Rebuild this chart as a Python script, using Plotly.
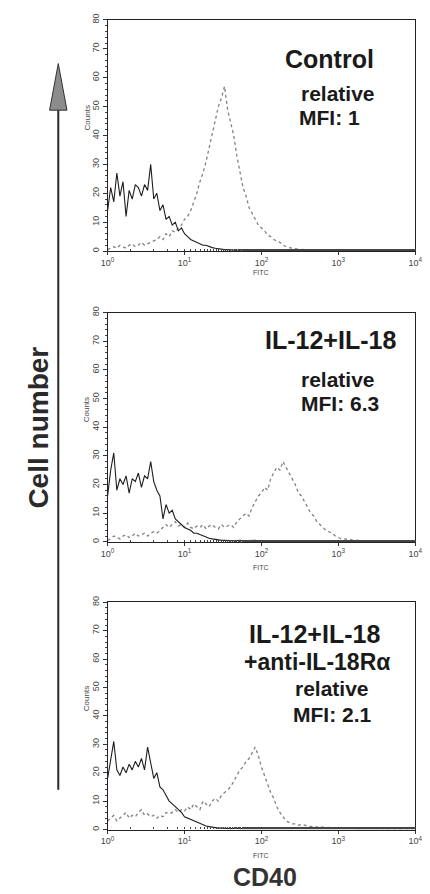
import plotly.graph_objects as go

# ---------------- data ----------------
# channel positions (log10 FITC)
CHANNEL_LOG = [0.00, 0.04, 0.08, 0.12, 0.16, 0.20, 0.24, 0.28, 0.32, 0.36,
               0.40, 0.44, 0.48, 0.52, 0.56, 0.60, 0.64, 0.68, 0.72, 0.76,
               0.80, 0.84, 0.88, 0.92, 0.96, 1.00, 1.04, 1.08, 1.12, 1.16,
               1.20, 1.24, 1.28, 1.32, 1.36, 1.40, 1.44, 1.48, 1.52, 1.56,
               1.60, 1.64, 1.68, 1.72, 1.76, 1.80, 1.84, 1.88, 1.92, 1.96,
               2.00, 2.04, 2.08, 2.12, 2.16, 2.20, 2.24, 2.28, 2.32, 2.36,
               2.40, 2.44, 2.48, 2.52, 2.56, 2.60, 2.64, 2.68, 2.72, 2.76,
               2.80, 2.84, 2.88, 2.92, 2.96, 3.00, 3.04, 3.08, 3.12, 3.16,
               3.20, 3.24, 3.28, 3.32, 3.36, 3.40, 3.44, 3.48, 3.52, 3.56,
               3.60, 3.64, 3.68, 3.72, 3.76, 3.80, 3.84, 3.88, 3.92, 3.96,
               4.00]

PANEL_LABELS = [["Control", "relative", "MFI: 1"],
                ["IL-12+IL-18", "relative", "MFI: 6.3"],
                ["IL-12+IL-18", "+anti-IL-18Rα", "relative", "MFI: 2.1"]]

# isotype control (black) counts
ISO_1 = [14, 22, 17, 27, 19, 24, 12, 21, 18, 23,
         22, 19, 23, 21, 30, 18, 20, 14, 16, 11,
         12, 9, 10, 7, 8, 6, 5, 4, 3.5, 3,
         2.5, 2, 2, 1.5, 1.2, 1, 0.8, 0.6, 0.5, 0.5,
         0.4, 0.5, 0.3, 0.4, 0.5, 0.3, 0.4, 0.3, 0.5, 0.4,
         0.3, 0.4, 0.3, 0.5, 0.3, 0.4, 0.3, 0.3, 0.4, 0.3,
         0.3, 0.4, 0.3, 0.3, 0.4, 0.3, 0.3, 0.3, 0.4, 0.3,
         0.3, 0.3, 0.4, 0.3, 0.3, 0.3, 0.3, 0.4, 0.3, 0.3,
         0.3, 0.3, 0.3, 0.4, 0.3, 0.3, 0.3, 0.3, 0.3, 0.3,
         0.3, 0.3, 0.4, 0.3, 0.3, 0.3, 0.3, 0.3, 0.3, 0.3,
         0.3]
ISO_2 = [16, 25, 31, 18, 22, 20, 23, 17, 22, 21,
         24, 19, 23, 22, 28, 21, 18, 16, 8, 13,
         10, 11, 8, 7, 6, 5, 4.5, 4, 3, 3,
         2.5, 2, 1.5, 1.2, 1, 0.8, 0.6, 0.5, 0.5, 0.4,
         0.5, 0.3, 0.4, 0.5, 0.3, 0.4, 0.3, 0.4, 0.5, 0.3,
         0.4, 0.3, 0.3, 0.4, 0.3, 0.3, 0.4, 0.3, 0.3, 0.3,
         0.4, 0.3, 0.3, 0.3, 0.4, 0.3, 0.3, 0.3, 0.3, 0.4,
         0.3, 0.3, 0.3, 0.3, 0.3, 0.4, 0.3, 0.3, 0.3, 0.3,
         0.3, 0.3, 0.3, 0.3, 0.4, 0.3, 0.3, 0.3, 0.3, 0.3,
         0.3, 0.3, 0.3, 0.3, 0.3, 0.4, 0.3, 0.3, 0.3, 0.3,
         0.3]
ISO_3 = [18, 24, 31, 21, 19, 22, 20, 23, 21, 24,
         22, 25, 21, 29, 23, 18, 20, 15, 14, 12,
         10, 9, 8, 7, 6, 4.5, 4, 3.5, 3, 2.5,
         2, 1.5, 1.2, 1, 0.8, 0.6, 0.5, 0.5, 0.4, 0.5,
         0.3, 0.4, 0.5, 0.3, 0.4, 0.3, 0.4, 0.3, 0.3, 0.4,
         0.3, 0.3, 0.4, 0.3, 0.3, 0.3, 0.4, 0.3, 0.3, 0.3,
         0.3, 0.4, 0.3, 0.3, 0.3, 0.3, 0.4, 0.3, 0.3, 0.3,
         0.3, 0.3, 0.3, 0.4, 0.3, 0.3, 0.3, 0.3, 0.3, 0.4,
         0.3, 0.3, 0.3, 0.3, 0.3, 0.3, 0.4, 0.3, 0.3, 0.3,
         0.3, 0.3, 0.3, 0.3, 0.3, 0.3, 0.3, 0.4, 0.3, 0.3,
         0.3]

# CD40 staining (gray) counts
CD40_1 = [0.5, 1, 1.5, 1, 2, 1.5, 1, 2, 2.5, 1.5,
          2, 3, 2, 2.5, 3, 3.5, 4, 5, 4, 6,
          5, 7, 6.5, 8, 9, 11, 12, 14, 17, 20,
          24, 27, 31, 36, 40, 46, 50, 53, 57, 49,
          44, 40, 33, 28, 22, 19, 15, 13, 11, 9,
          8, 7, 5.5, 5, 4, 3.5, 3, 2, 1.5, 1.2,
          1, 0.8, 0.6, 0.5, 0.6, 0.4, 0.5, 0.4, 0.5, 0.4,
          0.3, 0.5, 0.4, 0.3, 0.4, 0.3, 0.4, 0.3, 0.4, 0.3,
          0.3, 0.4, 0.3, 0.3, 0.4, 0.3, 0.3, 0.3, 0.4, 0.3,
          0.3, 0.3, 0.3, 0.4, 0.3, 0.3, 0.3, 0.3, 0.3, 0.3,
          0.3]
CD40_2 = [0.5, 1, 2, 1.5, 1, 2, 2.5, 1.5, 2, 3,
          2, 2.5, 3, 2, 3, 3.5, 3, 4, 5, 6,
          5, 6, 7, 5.5, 6, 5, 6.5, 5, 4.5, 5.5,
          5, 6, 4.5, 5.5, 6, 5, 4.5, 6, 5, 5.5,
          6, 5, 7, 8, 9, 10, 9, 12, 14, 16,
          17, 19, 18, 22, 24, 26, 25, 28, 26, 24,
          22, 20, 17, 16, 14, 12, 10, 9, 7, 6,
          5, 4, 3.5, 3, 2, 1.5, 1, 1, 0.8, 0.6,
          0.5, 0.5, 0.4, 0.5, 0.4, 0.3, 0.4, 0.3, 0.4, 0.3,
          0.3, 0.4, 0.3, 0.3, 0.3, 0.4, 0.3, 0.3, 0.3, 0.3,
          0.3]
CD40_3 = [3, 4, 5, 3, 4, 5, 6, 4, 5, 4.5,
          6, 7, 5, 5.5, 4.5, 5, 4, 5, 4.5, 6,
          5.5, 6, 7, 6, 7, 6.5, 8, 7, 9, 8,
          7, 10, 9, 8, 10, 11, 10, 12, 13, 14,
          15, 17, 19, 21, 22, 24, 25, 27, 29, 26,
          22, 19, 16, 13, 11, 8, 6, 4.5, 3, 2.5,
          2, 2, 1.5, 1.8, 1.5, 1.2, 1, 1.2, 0.8, 1,
          0.8, 0.6, 0.7, 0.5, 0.6, 0.5, 0.4, 0.5, 0.4, 0.4,
          0.3, 0.4, 0.3, 0.4, 0.3, 0.3, 0.4, 0.3, 0.3, 0.3,
          0.3, 0.3, 0.4, 0.3, 0.3, 0.3, 0.3, 0.3, 0.3, 0.3,
          0.3]

ISO = [ISO_1, ISO_2, ISO_3]
CD40 = [CD40_1, CD40_2, CD40_3]

Y_TICKS = [0, 10, 20, 30, 40, 50, 60, 70, 80]
X_TICKVALS = [1, 10, 100, 1000, 10000]
X_TICKTEXT = ["10<sup>0</sup>", "10<sup>1</sup>", "10<sup>2</sup>",
              "10<sup>3</sup>", "10<sup>4</sup>"]

# ---------------- layout helpers ----------------
W, H = 430, 894
def px(x):
    return x / W
def py(y):
    return 1 - y / H

FONT = "Liberation Sans, Arial, sans-serif"
XDOM = [px(104), px(422)]
PANELS = [(14, 247), (309, 540), (601, 830)]   # top, bottom pixel rows

fitc = [10 ** v for v in CHANNEL_LOG]

fig = go.Figure()
for k in range(3):
    sfx = "" if k == 0 else str(k + 1)
    fig.add_trace(go.Scatter(x=fitc, y=CD40[k], mode="lines",
                             line=dict(color="#808080", width=1.3, dash="dot"),
                             xaxis="x" + sfx, yaxis="y" + sfx, showlegend=False))
    fig.add_trace(go.Scatter(x=fitc, y=ISO[k], mode="lines",
                             line=dict(color="#1e1e1e", width=1.1),
                             xaxis="x" + sfx, yaxis="y" + sfx, showlegend=False))

axis_common = dict(showline=True, linecolor="#222", linewidth=1.2, mirror=True,
                   showgrid=False, zeroline=False,
                   tickfont=dict(family=FONT, size=9, color="#444"))
for k, (top, bot) in enumerate(PANELS):
    sfx = "" if k == 0 else str(k + 1)
    fig.layout["xaxis" + sfx] = dict(
        axis_common, type="log", range=[0, 4], domain=XDOM,
        anchor="y" + sfx, tickvals=X_TICKVALS, ticktext=X_TICKTEXT,
        ticks="outside", ticklen=3, tickcolor="#333",
        minor=dict(ticks="inside", ticklen=2, tickcolor="#444"))
    fig.layout["yaxis" + sfx] = dict(
        axis_common, range=[0, 80], domain=[py(bot), py(top)],
        anchor="x" + sfx, tickvals=Y_TICKS, tickangle=-90,
        ticks="outside", ticklen=4, tickcolor="#333",
        minor=dict(ticks="outside", ticklen=2, dtick=2, tickcolor="#444"))

ann = []
def text(x, y, s, size, bold=True, color="#1a1a1a", angle=0, xanchor="center"):
    ann.append(dict(x=px(x), y=py(y), xref="paper", yref="paper",
                    text=("<b>%s</b>" % s) if bold else s, showarrow=False,
                    textangle=angle, xanchor=xanchor, yanchor="middle",
                    font=dict(family=FONT, size=size, color=color)))

# panel labels
text(333, 53, PANEL_LABELS[0][0], 25)
text(302, 88, PANEL_LABELS[0][1], 21, xanchor="left")
text(300, 112, PANEL_LABELS[0][2], 21, xanchor="left")

text(334, 337, PANEL_LABELS[1][0], 25)
text(342, 376, PANEL_LABELS[1][1], 21)
text(344, 401, PANEL_LABELS[1][2], 21)

text(318, 633, PANEL_LABELS[2][0], 25)
text(320, 661, PANEL_LABELS[2][1], 23)
text(336, 688, PANEL_LABELS[2][2], 21)
text(336, 714, PANEL_LABELS[2][3], 21)

# axis small labels
for (top, bot), fy in zip(PANELS, [269, 566, 856]):
    text(83, bot - 46 * (bot - top) / 80, "Counts", 8, bold=False,
         color="#444", angle=-90)
    text(263, fy, "FITC", 7, bold=False, color="#444")

text(267, 878, "CD40", 25, color="#333")
text(33, 425, "Cell number", 28, color="#2a2a2a", angle=-90)

fig.update_layout(annotations=ann)

# big arrow "Cell number"
fig.add_shape(type="line", xref="paper", yref="paper",
              x0=px(53), x1=px(53), y0=py(790), y1=py(100),
              line=dict(color="#2a2a2a", width=2))
fig.add_shape(type="path", xref="paper", yref="paper",
              path="M %f %f L %f %f L %f %f Z" % (px(44), py(105), px(53), py(58),
                                                 px(62), py(105)),
              fillcolor="#8c8c8c", line=dict(color="#333", width=1))

fig.update_layout(width=W, height=H, margin=dict(l=0, r=0, t=0, b=0),
                  paper_bgcolor="white", plot_bgcolor="white",
                  showlegend=False)

fig.write_html("out.html")
